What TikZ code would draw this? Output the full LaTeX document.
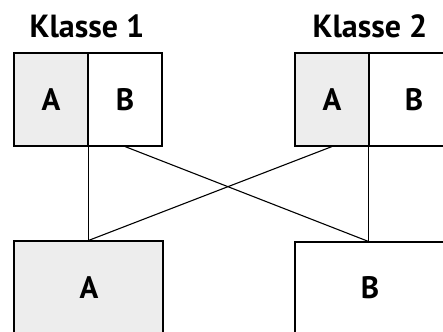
\documentclass[tikz,border=0pt]{standalone}
\usepackage{fontspec}
\setmainfont{PT Sans}
\begin{document}
\begin{tikzpicture}[x=1pt,y=-1pt,
  letter/.style={font=\fontsize{31}{34}\selectfont\bfseries},
  cell/.style={draw=black, line width=1.1pt, minimum width=74pt, minimum height=93pt,
    inner sep=0pt, letter},
  shaded/.style={fill=black!7},
  lower/.style={draw=black, line width=1.1pt, inner sep=0pt, minimum height=100pt},
  title/.style={font=\fontsize{32}{36}\selectfont\bfseries, inner sep=0pt, anchor=base},
  link/.style={line width=1.1pt, line cap=round}]
\useasboundingbox (0,0) rectangle (443,331);
\clip (0,0) rectangle (443,331);

% class headings
\node[title] (k1) at (87,38) {Klasse 1};
\node[title] (k2) at (370,38) {Klasse 2};

% class 1: parts A and B
\node[cell, shaded] (A1) at (51,99.5) {A};
\node[cell] (B1) at (125,99.5) {B};

% class 2: parts A and B (B runs off the right edge)
\node[cell, shaded] (A2) at (332,99.5) {A};
\node[cell, minimum width=90pt] (B2) at (414,99.5) {B};

% recombined parts
\node[lower, shaded, minimum width=149pt] (LA) at (88.5,291) {};
\node[letter] (LAt) at (89,288) {A};
\node[lower, minimum width=160pt] (LB) at (375,292) {};
\node[letter] (LBt) at (370,288) {B};

\coordinate (jA) at (A1.south east |- LA.north);
\coordinate (jB) at (B2.south west |- LB.north);

% crossing connectors
\draw[link] (A1.south east) -- (jA);
\draw[link] (B1.south) -- (jB);
\draw[link] (A2.south) -- (jA);
\draw[link] (B2.south west) -- (jB);
\end{tikzpicture}
\end{document}
